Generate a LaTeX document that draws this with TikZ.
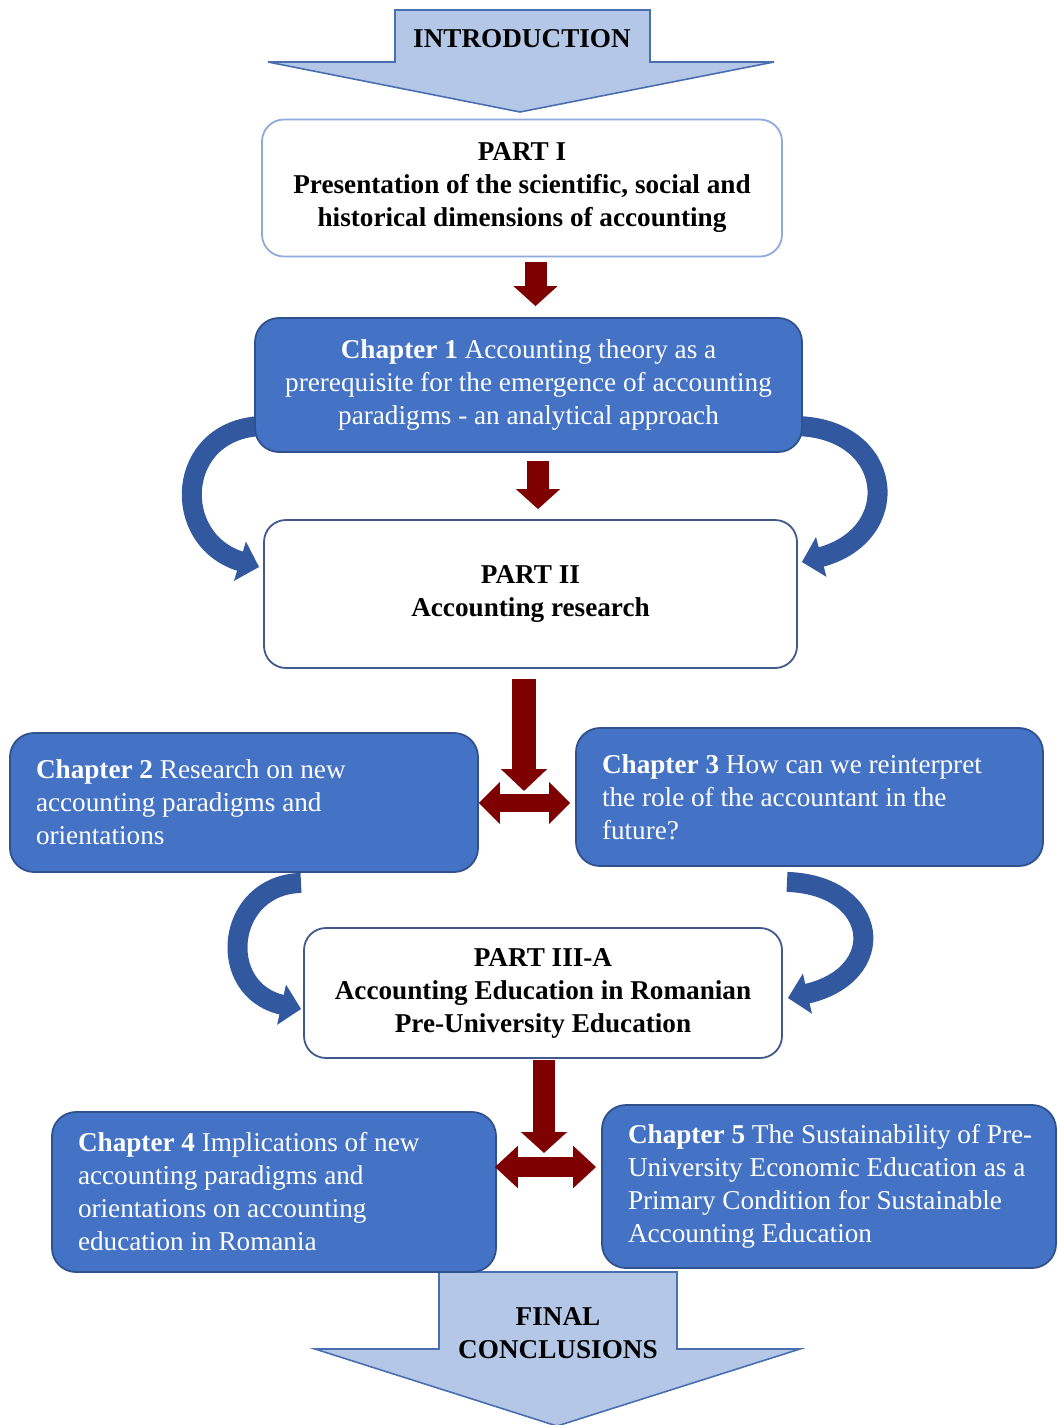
\documentclass[tikz,border=0pt]{standalone}
\usepackage{fontspec}
\setmainfont{Liberation Serif}
\usetikzlibrary{arrows.meta,calc}
\definecolor{chapfill}{HTML}{4472C4}
\definecolor{chapedge}{HTML}{2F528F}
\definecolor{partedge}{HTML}{8FAADC}
\definecolor{partedgeb}{HTML}{41598B}
\definecolor{blockfill}{HTML}{B4C7E7}
\definecolor{blockedge}{HTML}{4A6FB0}
\definecolor{darkred}{HTML}{7F0000}
\definecolor{curveblue}{HTML}{32599F}
\pgfdeclarelayer{background}
\pgfsetlayers{background,main}
\newcommand{\nsp}{\spaceskip=0pt\xspaceskip=0pt\relax}
\begin{document}
\begin{tikzpicture}[x=0.5pt,y=-0.5pt,
  txt/.style={font=\fontsize{13.6}{16.5}\selectfont},
  partbox/.style={txt, draw=partedgeb, line width=0.9pt, fill=white, rounded corners=11pt, align=center, font=\fontsize{13.6}{16.5}\selectfont\bfseries, text=black, inner sep=0pt},
  chapbox/.style={txt, draw=chapedge, line width=0.9pt, fill=chapfill, rounded corners=12pt, text=white, inner sep=0pt},
  chapleft/.style={chapbox, align=flush left, inner xsep=13pt},
  blockarrow/.style={fill=blockfill, draw=blockedge, line width=0.8pt},
  redarrow/.style={draw=darkred, line width=11pt, -{Triangle[width=21.5pt,length=10pt]}},
  redboth/.style={draw=darkred, line width=9pt, {Triangle[width=20.5pt,length=10.5pt]}-{Triangle[width=20.5pt,length=10.5pt]}},
  curvearrow/.style={draw=curveblue, line width=10pt, -{Triangle[width=20pt,length=10pt]}}
]
\useasboundingbox (0,0) rectangle (1058,1425);

% block arrows (introduction / final conclusions)
\draw[blockarrow] (395,10) -- (650,10) -- (650,62) -- (774,62) -- (520,112) -- (268,62) -- (395,62) -- cycle;
\node[txt, font=\fontsize{13.6}{16.5}\selectfont\bfseries] (intro) at (522,39) {INTRODUCTION};

\draw[blockarrow] (439,1272) -- (677,1272) -- (677,1349) -- (800,1349) -- (557,1426) -- (315,1349) -- (439,1349) -- cycle;
\node[txt, font=\fontsize{13.6}{16.5}\selectfont\bfseries, align=center] (final) at (558,1333) {FINAL\\CONCLUSIONS};

% boxes
\node[partbox, draw=partedge, minimum width=260pt, minimum height=68.5pt] (part1) at (522,188)
  {PART I\\Presentation of the scientific, social and\\historical dimensions of accounting};
\node[chapbox, align=center, minimum width=273.5pt, minimum height=67pt] (ch1) at (528.5,385)
  {\textbf{Chapter 1} Accounting theory as a\\prerequisite for the emergence of accounting\\paradigms - an analytical approach};
\node[partbox, minimum width=266.5pt, minimum height=74pt] (part2) at (530.5,594)
  {PART II\\Accounting research};
\node[chapleft, text width=208pt, minimum height=69.5pt] (ch2) at (244,802.5)
  {\nsp\mbox{\textbf{Chapter 2} Research on new}\\\mbox{accounting paradigms and}\\\mbox{orientations}};
\node[chapleft, text width=207.5pt, minimum height=69pt] (ch3) at (809.5,797)
  {\nsp\mbox{\textbf{Chapter 3} How can we reinterpret}\\\mbox{the role of the accountant in the}\\\mbox{future?}};
\node[partbox, minimum width=239pt, minimum height=65pt] (part3) at (543,993)
  {PART III-A\\Accounting Education in Romanian\\Pre-University Education};
\node[chapleft, text width=196pt, minimum height=80pt] (ch4) at (274,1192)
  {\nsp\mbox{\textbf{Chapter 4} Implications of new}\\\mbox{accounting paradigms and}\\\mbox{orientations on accounting}\\\mbox{education in Romania}};
\node[chapleft, text width=201pt, minimum height=81.5pt] (ch5) at (829,1186.5)
  {\nsp\mbox{\textbf{Chapter 5} The Sustainability of Pre-}\\\mbox{University Economic Education as a}\\\mbox{Primary Condition for Sustainable}\\\mbox{Accounting Education}};

\coordinate (j1) at (524,791);
\coordinate (j2) at (544,1153);

\begin{pgfonlayer}{background}
% curved arrows
\draw[curvearrow] ($(ch1.west)+(7,41)$) .. controls (175,430) and (170,540) .. ($(part2.west)+(-4,-27)$);
\draw[curvearrow] ($(ch1.east)+(-7,41)$) .. controls (895,428) and (905,535) .. ($(part2.east)+(4,-32)$);
\draw[curvearrow] ($(ch2.south)+(57,10)$) .. controls (225,885) and (215,990) .. ($(part3.west)+(-2,16)$);
\draw[curvearrow] ($(ch3.south)+(-22.5,15)$) .. controls (880,885) and (890,975) .. ($(part3.east)+(5,5)$);
\end{pgfonlayer}

% red arrows
\draw[redarrow] ($(part1.south)+(13.5,5)$) -- ($(ch1.north)+(7,-11)$);
\draw[redarrow] ($(ch1.south)+(9.5,8)$) -- ($(part2.north)+(7.5,-10)$);
\draw[redarrow, line width=12pt, -{Triangle[width=22.5pt,length=11pt]}] ($(part2.south)+(-6.5,10)$) -- (j1);
\draw[redboth] ($(ch2.east)+(0,0.5)$) -- ($(ch3.west)+(-5,6)$);
\draw[redarrow, -{Triangle[width=22.5pt,length=10.5pt]}] ($(part3.south)+(1,1)$) -- (j2);
\draw[redboth, line width=10pt, {Triangle[width=20.5pt,length=11.5pt]}-{Triangle[width=20.5pt,length=11.5pt]}] ($(ch4.east)+(-2,-25)$) -- ($(ch5.west)+(-5,-19.5)$);
\end{tikzpicture}
\end{document}
